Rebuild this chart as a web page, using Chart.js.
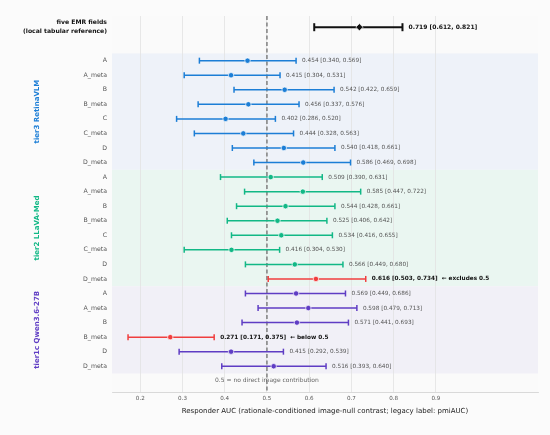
<!DOCTYPE html>
<html>
<head>
<meta charset="utf-8">
<script src="https://cdn.jsdelivr.net/npm/chart.js@4.4.1/dist/chart.umd.min.js"></script>
<style>
  html, body { margin: 0; padding: 0; background: #fbfbfb; }
  #wrap { width: 550px; height: 435px; }
</style>
</head>
<body>
<div id="wrap"><canvas id="forest"></canvas></div>
<script>
// reference row (tabular model)
var refLabel = ["five EMR fields", "(local tabular reference)"];
var refEst = 0.719, refLo = 0.612, refHi = 0.821;

var groupNames = ["tier3 RetinaVLM", "tier2 LLaVA-Med", "tier1c Qwen3.6-27B"];

var t3Labels = ["A", "A_meta", "B", "B_meta", "C", "C_meta", "D", "D_meta"];
var t3Est = [0.454, 0.415, 0.542, 0.456, 0.402, 0.444, 0.540, 0.586];
var t3Lo  = [0.340, 0.304, 0.422, 0.337, 0.286, 0.328, 0.418, 0.469];
var t3Hi  = [0.569, 0.531, 0.659, 0.576, 0.520, 0.563, 0.661, 0.698];
var t3Notes = ["", "", "", "", "", "", "", ""];

var t2Labels = ["A", "A_meta", "B", "B_meta", "C", "C_meta", "D", "D_meta"];
var t2Est = [0.509, 0.585, 0.544, 0.525, 0.534, 0.416, 0.566, 0.616];
var t2Lo  = [0.390, 0.447, 0.428, 0.406, 0.416, 0.304, 0.449, 0.503];
var t2Hi  = [0.631, 0.722, 0.661, 0.642, 0.655, 0.530, 0.680, 0.734];
var t2Notes = ["", "", "", "", "", "", "", "excludes 0.5"];

var t1Labels = ["A", "A_meta", "B", "B_meta", "D", "D_meta"];
var t1Est = [0.569, 0.598, 0.571, 0.271, 0.415, 0.516];
var t1Lo  = [0.449, 0.479, 0.441, 0.171, 0.292, 0.393];
var t1Hi  = [0.686, 0.713, 0.693, 0.375, 0.539, 0.640];
var t1Notes = ["", "", "", "below 0.5", "", ""];

var xTicks = [0.2, 0.3, 0.4, 0.5, 0.6, 0.7, 0.8, 0.9];
var nullValue = 0.5;
var nullNote = "0.5 = no direct image contribution";
var xTitle = "Responder AUC (rationale-conditioned image-null contrast; legacy label: pmiAUC)";

// styling
var groupColors = ["#1c7ed6", "#12b886", "#5f3dc4"];
var bandColors = ["#eef2f9", "#eaf6f1", "#f1f0f7"];
var flagColor = "#f03e3e";
var FONT = "'DejaVu Sans', sans-serif";

// build rows
var rows = [];
var refY = -2.3;
rows.push({ label: refLabel, est: refEst, lo: refLo, hi: refHi, y: refY, color: "#111111", note: "", ref: true });

var groups = [
  [t3Labels, t3Est, t3Lo, t3Hi, t3Notes],
  [t2Labels, t2Est, t2Lo, t2Hi, t2Notes],
  [t1Labels, t1Est, t1Lo, t1Hi, t1Notes]
];
var bands = [];
var pos = 0;
for (var g = 0; g < groups.length; g++) {
  var gr = groups[g];
  var start = pos;
  for (var i = 0; i < gr[0].length; i++) {
    rows.push({
      label: gr[0][i], est: gr[1][i], lo: gr[2][i], hi: gr[3][i], y: pos,
      color: gr[4][i] ? flagColor : groupColors[g], note: gr[4][i], ref: false
    });
    pos++;
  }
  bands.push({ from: start - 0.5, to: pos - 0.5, color: bandColors[g], text: groupNames[g], textColor: groupColors[g] });
}
var noteY = pos;

var labelAt = {};
rows.forEach(function (r) { labelAt[r.y] = r; });

var datasets = rows.map(function (r) {
  return {
    showLine: true,
    data: [{ x: r.lo, y: r.y }, { x: r.est, y: r.y }, { x: r.hi, y: r.y }],
    borderColor: r.color,
    borderWidth: r.ref ? 2 : 1.5,
    pointStyle: function (c) { return c.dataIndex === 1 ? (r.ref ? "rectRot" : "circle") : "line"; },
    pointRotation: function (c) { return c.dataIndex === 1 ? 0 : 90; },
    pointRadius: function (c) { return c.dataIndex === 1 ? (r.ref ? 3.6 : 2.7) : (r.ref ? 4 : 3); },
    pointBackgroundColor: r.color,
    pointBorderColor: function (c) { return c.dataIndex === 1 ? "#ffffff" : r.color; },
    pointBorderWidth: function (c) { return c.dataIndex === 1 ? 0.7 : (r.ref ? 2 : 1.5); }
  };
});

function fmt(v) { return v.toFixed(3); }

var decor = {
  id: "decor",
  beforeDraw: function (chart) {
    var ctx = chart.ctx, a = chart.chartArea, ys = chart.scales.y;
    ctx.save();
    ctx.fillStyle = "#fbfbfb";
    ctx.fillRect(0, 0, chart.width, chart.height);
    ctx.fillStyle = "#fafafa";
    ctx.fillRect(a.left, a.top, a.right - a.left, a.bottom - a.top);
    bands.forEach(function (b) {
      var y0 = ys.getPixelForValue(b.from), y1 = ys.getPixelForValue(b.to);
      ctx.fillStyle = b.color;
      ctx.fillRect(a.left, y0, a.right - a.left, y1 - y0);
    });
    ctx.restore();
  },
  beforeDatasetsDraw: function (chart) {
    var ctx = chart.ctx, a = chart.chartArea;
    var x = chart.scales.x.getPixelForValue(nullValue);
    ctx.save();
    ctx.strokeStyle = "#6f6f6f";
    ctx.lineWidth = 1.3;
    ctx.setLineDash([4, 2.5]);
    ctx.beginPath();
    ctx.moveTo(x, a.top);
    ctx.lineTo(x, a.bottom);
    ctx.stroke();
    ctx.restore();
  },
  afterDatasetsDraw: function (chart) {
    var ctx = chart.ctx, xs = chart.scales.x, ys = chart.scales.y;
    ctx.save();
    ctx.textBaseline = "middle";
    ctx.textAlign = "left";
    rows.forEach(function (r) {
      var txt = fmt(r.est) + " [" + fmt(r.lo) + ", " + fmt(r.hi) + "]";
      if (r.note) txt += "  \u2190 " + r.note;
      if (r.ref) {
        ctx.font = "bold 6px " + FONT;
        ctx.fillStyle = "#111111";
      } else if (r.note) {
        ctx.font = "bold 5.75px " + FONT;
        ctx.fillStyle = "#111111";
      } else {
        ctx.font = "5.75px " + FONT;
        ctx.fillStyle = "#555555";
      }
      ctx.fillText(txt, xs.getPixelForValue(r.hi) + 6, ys.getPixelForValue(r.y));
    });
    // note under the bands
    ctx.textAlign = "center";
    ctx.font = "6px " + FONT;
    ctx.fillStyle = "#666666";
    ctx.fillText(nullNote, xs.getPixelForValue(nullValue), ys.getPixelForValue(noteY));
    // group names, rotated
    bands.forEach(function (b) {
      var yc = (ys.getPixelForValue(b.from) + ys.getPixelForValue(b.to)) / 2;
      ctx.save();
      ctx.translate(37, yc);
      ctx.rotate(-Math.PI / 2);
      ctx.font = "bold 7px " + FONT;
      ctx.fillStyle = b.textColor;
      ctx.fillText(b.text, 0, 0);
      ctx.restore();
    });
    ctx.restore();
  }
};

new Chart(document.getElementById("forest"), {
  type: "scatter",
  data: { datasets: datasets },
  plugins: [decor],
  options: {
    responsive: true,
    maintainAspectRatio: false,
    animation: false,
    layout: { padding: { top: 16, right: 12, left: 0, bottom: 0 } },
    plugins: { legend: { display: false }, tooltip: { enabled: false } },
    scales: {
      x: {
        type: "linear",
        min: 0.133,
        max: 1.142,
        afterBuildTicks: function (s) { s.ticks = xTicks.map(function (v) { return { value: v }; }); },
        afterFit: function (s) { s.height = 43; },
        grid: { color: "#e2e2e2", lineWidth: 0.8, drawTicks: false },
        border: { display: true, color: "#d0d0d0", width: 0.8 },
        ticks: {
          padding: 3.5,
          color: "#555555",
          font: { family: FONT, size: 5.6 },
          callback: function (v) { return v.toFixed(1); }
        },
        title: {
          display: true,
          text: xTitle,
          color: "#222222",
          font: { family: FONT, size: 7 },
          padding: { top: 0, bottom: 19.8 }
        }
      },
      y: {
        type: "linear",
        reverse: true,
        min: -3.07,
        max: 22.77,
        afterBuildTicks: function (s) { s.ticks = rows.map(function (r) { return { value: r.y }; }); },
        afterFit: function (s) { s.width = 112; },
        grid: { display: false, drawTicks: false },
        border: { display: false },
        ticks: {
          autoSkip: false,
          padding: 5,
          color: function (c) { return c.tick && c.tick.value === refY ? "#111111" : "#555555"; },
          font: function (c) {
            if (c.tick && c.tick.value === refY) return { family: FONT, size: 6.1, weight: "bold", lineHeight: 1.42 };
            return { family: FONT, size: 6.2 };
          },
          callback: function (v) { return labelAt[v] ? labelAt[v].label : ""; }
        }
      }
    }
  }
});
</script>
</body>
</html>
